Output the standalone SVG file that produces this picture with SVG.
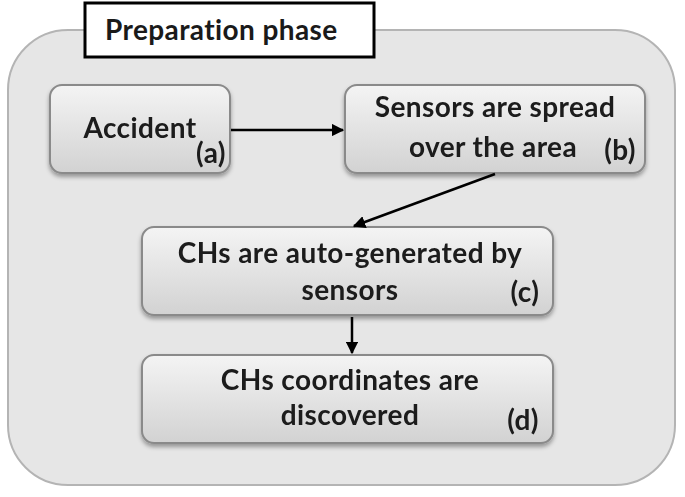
<svg xmlns="http://www.w3.org/2000/svg" width="685" height="497" viewBox="0 0 685 497">
<defs>
<linearGradient id="g" x1="0" y1="0" x2="0" y2="1">
<stop offset="0" stop-color="#f4f4f4"/>
<stop offset="1" stop-color="#d2d2d2"/>
</linearGradient>
<filter id="sh" x="-10%" y="-10%" width="120%" height="130%">
<feDropShadow dx="0" dy="3" stdDeviation="2" flood-color="#000" flood-opacity="0.35"/>
</filter>
<marker id="ah" viewBox="0 0 10 10" refX="9" refY="5" markerWidth="5" markerHeight="5" orient="auto">
<path d="M0,0 L10,5 L0,10 z" fill="#000"/>
</marker>
<style>
.node{fill:url(#g);stroke:#8a8a8a;stroke-width:2}
.t{font-family:Lato,"Open Sans",sans-serif;font-weight:bold;font-size:28px;letter-spacing:0.4px;fill:#1a1a1a}
.c{stroke:#000;stroke-width:2.5;fill:none;marker-end:url(#ah)}
</style>
</defs>
<rect width="685" height="497" fill="#fff"/>
<g id="container">
<rect x="8" y="30" width="667" height="455" rx="60" fill="#e6e6e6" stroke="#b4b4b4" stroke-width="2"/>
</g>
<g id="title">
<rect x="85" y="3" width="289" height="54" fill="#fff" stroke="#000" stroke-width="3"/>
<text class="t" x="105" y="40">Preparation phase</text>
</g>
<g id="a" filter="url(#sh)">
<rect class="node" x="50" y="85" width="180" height="88" rx="12"/>
<text class="t" x="140" y="138" text-anchor="middle">Accident</text>
<text class="t" x="211" y="163" text-anchor="middle">(a)</text>
</g>
<g id="b" filter="url(#sh)">
<rect class="node" x="345" y="85" width="300" height="88" rx="12"/>
<text class="t" x="495" y="117" text-anchor="middle">Sensors are spread</text>
<text class="t" x="493" y="157" text-anchor="middle">over the area</text>
<text class="t" x="620" y="160" text-anchor="middle">(b)</text>
</g>
<g id="c" filter="url(#sh)">
<rect class="node" x="142" y="227" width="411" height="88" rx="12"/>
<text class="t" x="350" y="263" text-anchor="middle">CHs are auto-generated by</text>
<text class="t" x="350" y="300" text-anchor="middle">sensors</text>
<text class="t" x="525" y="302" text-anchor="middle">(c)</text>
</g>
<g id="d" filter="url(#sh)">
<rect class="node" x="142" y="355" width="411" height="88" rx="12"/>
<text class="t" x="350" y="390" text-anchor="middle">CHs coordinates are</text>
<text class="t" x="350" y="425" text-anchor="middle">discovered</text>
<text class="t" x="523" y="430" text-anchor="middle">(d)</text>
</g>
<g id="connectors">
<line class="c" x1="231" y1="130" x2="343" y2="130"/>
<line class="c" x1="495" y1="174" x2="354" y2="226"/>
<line class="c" x1="352" y1="317" x2="352" y2="353"/>
</g>
</svg>
